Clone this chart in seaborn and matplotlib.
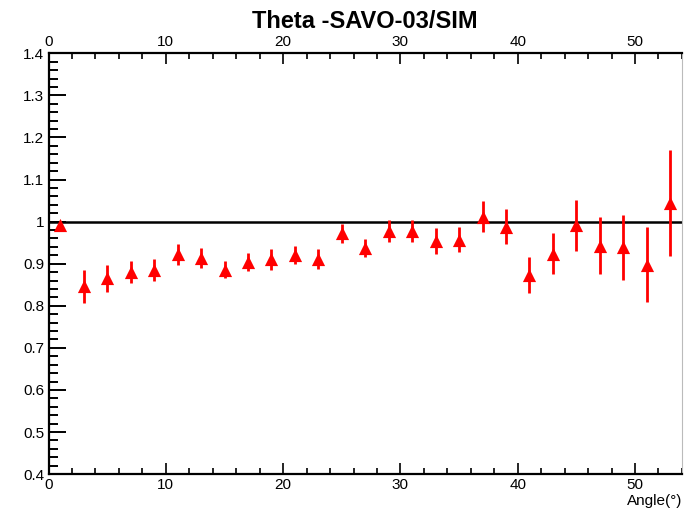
import pandas as pd
import matplotlib
matplotlib.use("Agg")
import matplotlib.pyplot as plt
import seaborn as sns
from matplotlib.ticker import MultipleLocator

# --- data ---
angle = [1, 3, 5, 7, 9, 11, 13, 15, 17, 19, 21, 23, 25, 27,
         29, 31, 33, 35, 37, 39, 41, 43, 45, 47, 49, 51, 53]
ratio = [0.993, 0.846, 0.865, 0.881, 0.885, 0.922, 0.913, 0.886, 0.904, 0.910,
         0.921, 0.912, 0.972, 0.938, 0.978, 0.977, 0.953, 0.957, 1.012, 0.988,
         0.874, 0.924, 0.991, 0.943, 0.939, 0.898, 1.045]
err = [0.008, 0.040, 0.032, 0.026, 0.026, 0.024, 0.024, 0.021, 0.022, 0.024,
       0.022, 0.024, 0.023, 0.021, 0.026, 0.026, 0.031, 0.030, 0.037, 0.042,
       0.043, 0.048, 0.061, 0.067, 0.077, 0.088, 0.126]

df = pd.DataFrame({"Angle": angle, "Ratio": ratio, "Err": err})

sns.set_style("ticks")
plt.rcParams['font.family'] = ['Liberation Sans', 'DejaVu Sans']
plt.rcParams['text.color'] = 'black'
plt.rcParams['xtick.color'] = 'black'
plt.rcParams['ytick.color'] = 'black'
plt.rcParams['xtick.labelcolor'] = 'black'
plt.rcParams['ytick.labelcolor'] = 'black'

fig = plt.figure(figsize=(6.84, 5.17), dpi=100)
ax = fig.add_axes([0.071, 0.083, 0.926, 0.814])

ax.axhline(1.0, color="black", lw=1.8, zorder=1)
ax.errorbar(df["Angle"], df["Ratio"], yerr=df["Err"], fmt="none",
            ecolor="red", elinewidth=2, capsize=0, zorder=2)
sns.scatterplot(data=df, x="Angle", y="Ratio", marker="^", color="red",
                s=90, edgecolor="red", linewidth=0, ax=ax, zorder=3, legend=False)

ax.set_xlim(0, 54)
ax.set_ylim(0.4, 1.4)
ax.xaxis.set_major_locator(MultipleLocator(10))
ax.xaxis.set_minor_locator(MultipleLocator(2))
ax.yaxis.set_minor_locator(MultipleLocator(0.02))
ax.set_yticks([0.4, 0.5, 0.6, 0.7, 0.8, 0.9, 1.0, 1.1, 1.2, 1.3, 1.4])
ax.set_yticklabels(["0.4", "0.5", "0.6", "0.7", "0.8", "0.9", "1",
                    "1.1", "1.2", "1.3", "1.4"])

ax.tick_params(axis="x", which="major", direction="in", length=8, width=1.2,
               top=True, labeltop=True, labelsize=11, pad=3)
ax.tick_params(axis="x", which="minor", direction="in", length=4, width=1.2, top=True)
ax.tick_params(axis="y", which="major", direction="in", length=12, width=1.4,
               right=False, labelsize=11, pad=3)
ax.tick_params(axis="y", which="minor", direction="in", length=6.5, width=1.4, right=False)

for side in ["left", "bottom", "top"]:
    ax.spines[side].set_linewidth(1.6)
    ax.spines[side].set_color("black")
ax.spines["right"].set_linewidth(0.8)
ax.spines["right"].set_color("#bbbbbb")

ax.set_xlabel("")
ax.set_ylabel("")
fig.text(0.997, 0.018, "Angle(°)", ha="right", va="bottom", fontsize=11)
fig.text(0.533, 0.946, "Theta -SAVO-03/SIM", ha="center", va="baseline",
         fontsize=17, fontweight="bold")

fig.savefig("out.png", dpi=100)
